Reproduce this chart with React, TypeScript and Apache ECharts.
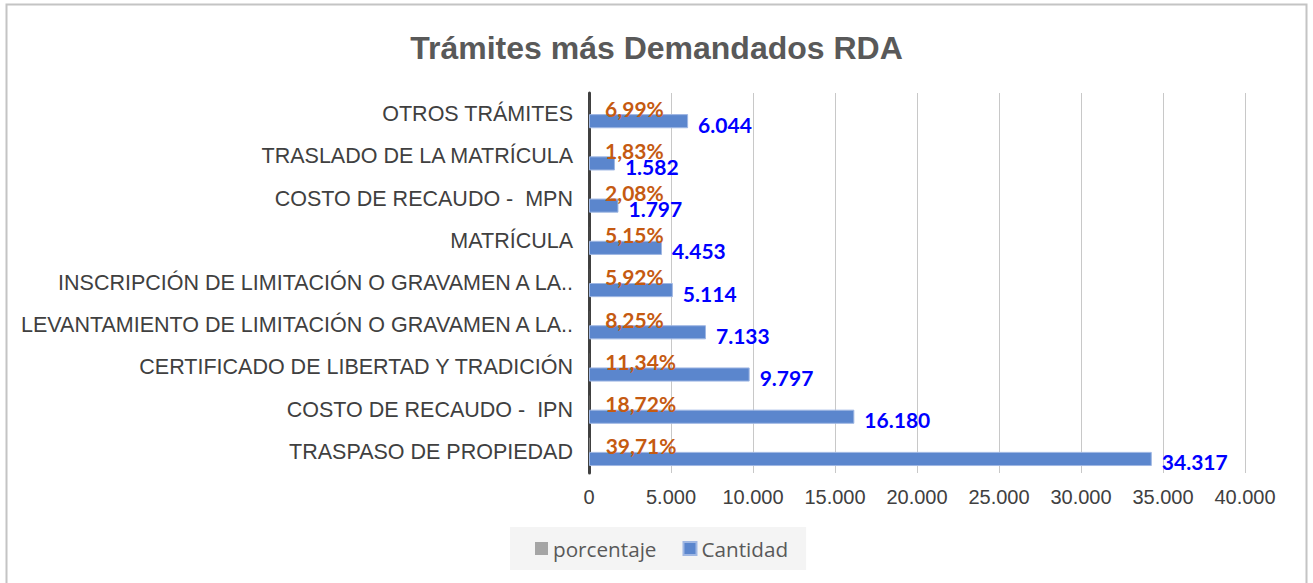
import React, { useEffect, useRef } from "react";
import * as echarts from "echarts";

const categories = [
  "TRASPASO DE PROPIEDAD",
  "COSTO DE RECAUDO -  IPN",
  "CERTIFICADO DE LIBERTAD Y TRADICIÓN",
  "LEVANTAMIENTO DE LIMITACIÓN O GRAVAMEN A LA..",
  "INSCRIPCIÓN DE LIMITACIÓN O GRAVAMEN A LA..",
  "MATRÍCULA",
  "COSTO DE RECAUDO -  MPN",
  "TRASLADO DE LA MATRÍCULA",
  "OTROS TRÁMITES",
];
const porcentaje = [39.71, 18.72, 11.34, 8.25, 5.92, 5.15, 2.08, 1.83, 6.99];
const cantidad = [34317, 16180, 9797, 7133, 5114, 4453, 1797, 1582, 6044];

const fmtThousands = (v: number) =>
  String(Math.round(v)).replace(/\B(?=(\d{3})+(?!\d))/g, ".");
const fmtPct = (v: number) => v.toFixed(2).replace(".", ",") + "%";

export default function App() {
  const ref = useRef<HTMLDivElement>(null);
  useEffect(() => {
    if (!ref.current) return;
    const chart = echarts.init(ref.current, null, { renderer: "svg" });
    chart.setOption({
      animation: false,
      backgroundColor: "#ffffff",
      title: {
        text: "Trámites más Demandados RDA",
        left: "center",
        top: 27,
        textStyle: {
          fontFamily: "Liberation Sans, Arial, sans-serif",
          fontWeight: "bold",
          fontSize: 32,
          color: "#595959",
        },
      },
      graphic: [
        {
          type: "rect",
          shape: { x: 6.5, y: 4.5, width: 1300, height: 620 },
          style: { fill: "none", stroke: "#c4c4c4", lineWidth: 2 },
          silent: true,
        },
      ],
      legend: {
        data: ["porcentaje", "Cantidad"],
        left: 510,
        top: 527,
        backgroundColor: "#f4f4f4",
        padding: [11, 18, 11, 25],
        itemWidth: 13,
        itemHeight: 13,
        itemGap: 26,
        icon: "rect",
        textStyle: {
          fontFamily: "Open Sans, sans-serif",
          fontSize: 20.7,
          color: "#595959",
        },
      },
      grid: { left: 589, right: 68, top: 93, bottom: 110, containLabel: false },
      xAxis: {
        type: "value",
        min: 0,
        max: 40000,
        interval: 5000,
        axisLine: { show: false },
        axisTick: { show: false },
        splitLine: { show: true, lineStyle: { color: "#c8c8c8", width: 1 } },
        axisLabel: {
          margin: 14,
          fontFamily: "Liberation Sans, Arial, sans-serif",
          fontSize: 20,
          color: "#404040",
          formatter: (v: number) => fmtThousands(v),
        },
      },
      yAxis: {
        type: "category",
        data: categories,
        axisLine: { show: true, lineStyle: { color: "#404040", width: 3 } },
        axisTick: { show: false },
        axisLabel: {
          margin: 16,
          fontFamily: "Liberation Sans, Arial, sans-serif",
          fontSize: 21.5,
          color: "#404040",
        },
      },
      series: [
        {
          name: "porcentaje",
          type: "bar",
          data: porcentaje,
          barGap: "0%",
          barCategoryGap: "33%",
          itemStyle: { color: "#a5a5a5" },
          label: {
            show: true,
            position: "right",
            distance: 16,
            offset: [0, 1],
            fontFamily: "Lato, sans-serif",
            fontWeight: "bold",
            fontSize: 21,
            color: "#c55a11",
            formatter: (p: any) => fmtPct(p.value),
          },
        },
        {
          name: "Cantidad",
          type: "bar",
          data: cantidad,
          barGap: "0%",
          barCategoryGap: "33%",
          itemStyle: { color: "#5b86cd", borderColor: "#9fb7e3", borderWidth: 1 },
          label: {
            show: true,
            position: "right",
            distance: 10,
            offset: [0, 3],
            fontFamily: "Lato, sans-serif",
            fontWeight: "bold",
            fontSize: 21,
            color: "#0000ff",
            formatter: (p: any) => fmtThousands(p.value),
          },
        },
      ],
    });
    return () => chart.dispose();
  }, []);
  return (
    <div
      ref={ref}
      style={{ position: "absolute", left: 0, top: 0, width: 1313, height: 583 }}
    />
  );
}
